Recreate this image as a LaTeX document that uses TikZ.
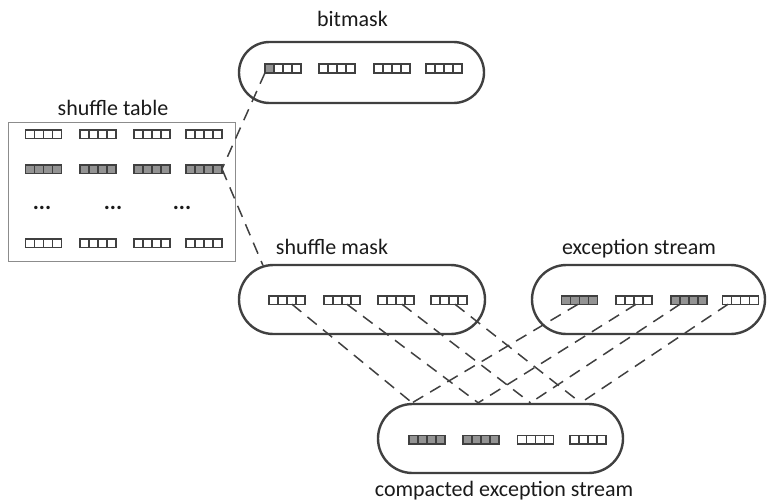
\documentclass[tikz,border=0pt]{standalone}
\usepackage{fontspec}
\setmainfont{Carlito}
\usetikzlibrary{shapes.misc,calc}
\definecolor{edge}{HTML}{404040}
\definecolor{cellfill}{HTML}{939393}
\definecolor{frame}{HTML}{8C8C8C}
\definecolor{ink}{HTML}{1A1A1A}
\tikzset{
  pill/.style={rounded rectangle, draw=edge, line width=2.4pt, inner sep=0pt},
  grp/.style={draw=edge, line width=1.5pt, minimum width=36pt, minimum height=8.5pt,
    inner sep=0pt, outer sep=0pt,
    path picture={
      \foreach \i in {1,2,3}{
        \draw[edge, line width=1.3pt]
          ([xshift={\i*9pt}]path picture bounding box.south west) --
          ([xshift={\i*9pt}]path picture bounding box.north west);
      }}},
  full/.style={grp, fill=cellfill},
  lead/.style={grp,
    path picture={
      \fill[cellfill] (path picture bounding box.south west) rectangle
        ([xshift=9pt]path picture bounding box.north west);
      \foreach \i in {1,2,3}{
        \draw[edge, line width=1.3pt]
          ([xshift={\i*9pt}]path picture bounding box.south west) --
          ([xshift={\i*9pt}]path picture bounding box.north west);
      }}},
  link/.style={draw=edge, line width=1.5pt, dash pattern=on 12pt off 8pt},
  lbl/.style={font=\fontsize{22}{26}\selectfont, text=ink, anchor=base, inner sep=0pt},
  dots/.style={lbl, font=\bfseries\fontsize{23}{26}\selectfont},
}
\begin{document}
\begin{tikzpicture}[x=1pt, y=-1pt]
\useasboundingbox (0,0) rectangle (768,503);

% containers
\node[pill, minimum width=245pt, minimum height=61pt] (bm) at (361.5,72.5) {};
\node[draw=frame, line width=0.9pt, minimum width=227pt, minimum height=139pt, inner sep=0pt] (st) at (121.5,191.5) {};
\node[pill, minimum width=246pt, minimum height=69pt] (sm) at (362,299.5) {};
\node[pill, minimum width=233pt, minimum height=69pt] (es) at (648.5,299.5) {};
\node[pill, minimum width=245pt, minimum height=69pt] (cs) at (500.5,438.5) {};

% titles
\node[lbl] (tbm) at (352.5,27) {bitmask};
\node[lbl] (tst) at (113,115) {shuffle table};
\node[lbl] (tsm) at (332,254) {shuffle mask};
\node[lbl] (tes) at (639,254) {exception stream};
\node[lbl] (tcs) at (504,496) {compacted exception stream};

% bitmask
\node[lead] (bm1) at (283,68.5) {};
\node[grp]  (bm2) at (337,68.5) {};
\node[grp]  (bm3) at (392,68.5) {};
\node[grp]  (bm4) at (444,68.5) {};

% shuffle table
\foreach \c/\x in {1/43.5,2/98,3/152,4/204}{
  \node[grp]  (st1\c) at (\x,134) {};
  \node[full] (st2\c) at (\x,169) {};
  \node[grp]  (st4\c) at (\x,243) {};
}
\node[dots] (d1) at (42,209) {...};
\node[dots] (d2) at (113,209) {...};
\node[dots] (d3) at (182,209) {...};

% shuffle mask
\node[grp] (sm1) at (287,300) {};
\node[grp] (sm2) at (342,300) {};
\node[grp] (sm3) at (396,300) {};
\node[grp] (sm4) at (449,300) {};

% exception stream
\node[full] (es1) at (579.5,300) {};
\node[grp]  (es2) at (634,300) {};
\node[full] (es3) at (689,300) {};
\node[grp]  (es4) at (740.5,300) {};

% compacted exception stream
\node[full] (cs1) at (427,439.5) {};
\node[full] (cs2) at (481,439.5) {};
\node[grp]  (cs3) at (535.5,439.5) {};
\node[grp]  (cs4) at (588,439.5) {};

% lookup of the shuffle mask
\draw[link] (bm1.south west) -- (st24.east);
\draw[link] (st24.east) -- (sm.161);

% shuffle mask lanes
\draw[link] ([xshift=5pt]sm1.south) -- (cs.158.6);
\draw[link] ([xshift=5pt]sm2.south) -- (cs.122.4);
\draw[link] ([xshift=6pt]sm3.south) -- (cs.50.3);
\draw[link] ([xshift=6pt]sm4.south) -- (cs.24.6);

% exception lanes
\draw[link] ([xshift=-1.5pt]es1.south) -- (cs.158.6);
\draw[link] ([xshift=2pt]es2.south) -- (cs.122.4);
\draw[link] ([xshift=-9pt]es3.south) -- (cs.50.3);
\draw[link] ([xshift=-12.5pt]es4.south) -- (cs.24.6);
\end{tikzpicture}
\end{document}
